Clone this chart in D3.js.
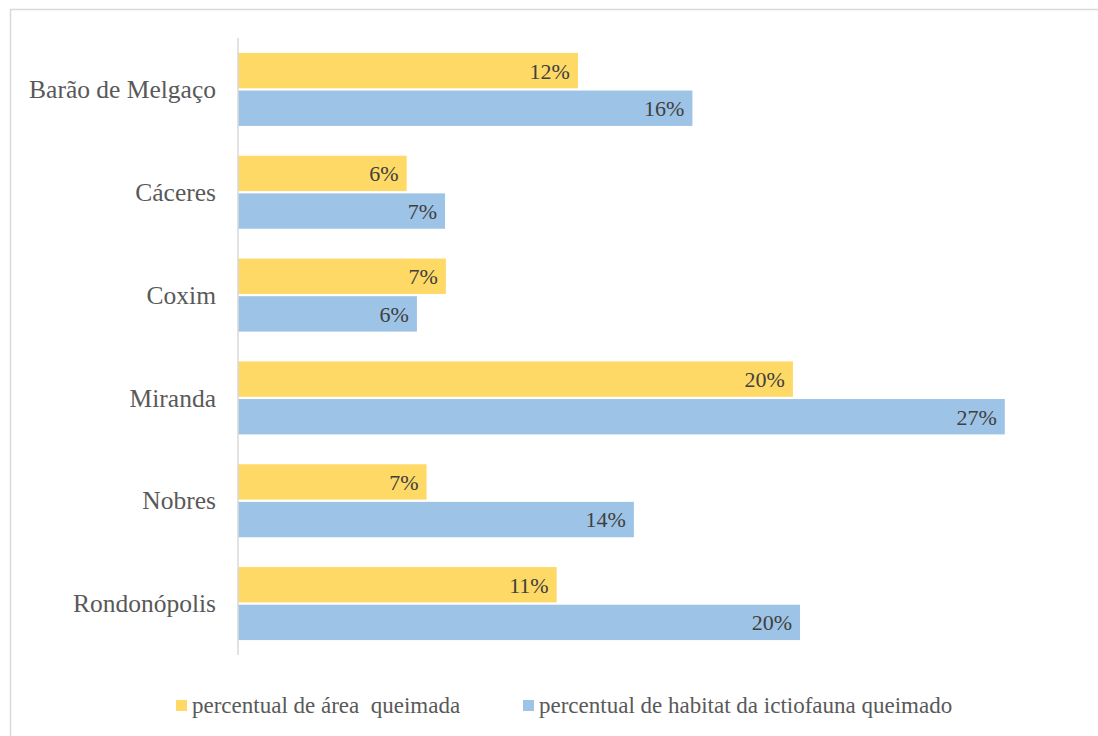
<!DOCTYPE html>
<html>
<head>
<meta charset="utf-8">
<script src="https://cdn.jsdelivr.net/npm/d3@7"></script>
<style>
  body { margin: 0; background: #fff; }
  text { font-family: 'Liberation Serif', 'Times New Roman', serif; }
</style>
</head>
<body>
<script>
var categories = ['Barão de Melgaço', 'Cáceres', 'Coxim', 'Miranda', 'Nobres', 'Rondonópolis'];
var seriesNames = ['percentual de área  queimada', 'percentual de habitat da ictiofauna queimado'];
// values (labels show them rounded)
var areaQueimada = [11.97, 5.94, 7.32, 19.54, 6.64, 11.22];
var habitatQueimado = [16.0, 7.29, 6.30, 27.0, 13.94, 19.79];
var colors = ['#fed966', '#9dc3e6'];

var width = 1098,
  height = 736;

var svg = d3.select('body').append('svg')
  .attr('width', width)
  .attr('height', height);

// outer chart border
svg.append('rect')
  .attr('x', 10.5)
  .attr('y', 9.5)
  .attr('width', 1100)
  .attr('height', 740)
  .style('fill', 'none')
  .style('stroke', '#d9d9d9')
  .style('stroke-width', 1.5);

var x = d3.scaleLinear().domain([0, 30]).range([238, 1090]);

var y = d3.scaleBand()
  .domain(categories)
  .range([38, 655])
  .paddingInner(0.29)
  .paddingOuter(0.145);

var ySub = d3.scaleBand()
  .domain([0, 1])
  .range([0, y.bandwidth()])
  .paddingInner(0.06);

var rows = categories.map(function(c, i) {
  return { cat: c, vals: [areaQueimada[i], habitatQueimado[i]] };
});

var groups = svg.append('g').selectAll('g')
  .data(rows)
  .enter()
  .append('g')
  .attr('transform', function(d) { return 'translate(0,' + y(d.cat) + ')'; });

groups.selectAll('rect')
  .data(function(d) { return d.vals; })
  .enter()
  .append('rect')
  .attr('x', x(0))
  .attr('y', function(d, i) { return ySub(i); })
  .attr('width', function(d) { return x(d) - x(0); })
  .attr('height', ySub.bandwidth())
  .style('fill', function(d, i) { return colors[i]; });

groups.selectAll('text.val')
  .data(function(d) { return d.vals; })
  .enter()
  .append('text')
  .attr('class', 'val')
  .attr('x', function(d) { return x(d) - 8; })
  .attr('y', function(d, i) { return ySub(i) + ySub.bandwidth() / 2; })
  .attr('dy', '0.36em')
  .attr('text-anchor', 'end')
  .style('font-size', '22px')
  .style('fill', '#404040')
  .text(function(d) { return Math.round(d) + '%'; });

// category axis
var yAxis = d3.axisLeft(y).tickSize(0).tickPadding(22);
var gy = svg.append('g')
  .attr('transform', 'translate(' + x(0) + ',0)')
  .call(yAxis);
gy.select('.domain').remove();
gy.selectAll('text')
  .style('font-size', '25.5px')
  .style('font-family', "'Liberation Serif', 'Times New Roman', serif")
  .style('fill', '#595959')
  .attr('dy', '0.34em');

svg.append('line')
  .attr('x1', x(0))
  .attr('x2', x(0))
  .attr('y1', 38)
  .attr('y2', 655)
  .style('stroke', '#d9d9d9')
  .style('stroke-width', 1.5);

// legend
var legend = svg.append('g').attr('class', 'legend');
var legendX = [176, 523];
seriesNames.forEach(function(name, i) {
  legend.append('rect')
    .attr('x', legendX[i])
    .attr('y', 700)
    .attr('width', 11)
    .attr('height', 11)
    .style('fill', colors[i]);
  legend.append('text')
    .attr('x', legendX[i] + 16)
    .attr('y', 713)
    .style('font-size', '23px')
    .style('fill', '#595959')
    .style('white-space', 'pre')
    .attr('xml:space', 'preserve')
    .text(name);
});
</script>
</body>
</html>
